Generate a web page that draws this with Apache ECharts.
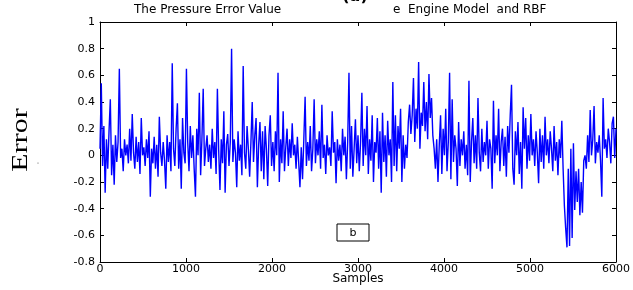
<!DOCTYPE html>
<html>
<head>
<meta charset="utf-8">
<script src="https://cdn.jsdelivr.net/npm/echarts@6/dist/echarts.min.js"></script>
<style>
  html, body { margin: 0; padding: 0; background: #fff; }
  #chart { width: 633px; height: 290px; }
</style>
</head>
<body>
<div id="chart"></div>
<script>
// one value every 15 samples
const step = 15;
const errA = [0.05,0.54,-0.08,0.22,-0.28,0.12,-0.1,0.18,0.42,-0.15,0.08,-0.22,0.15,-0.05,0.1,0.65,-0.02,0.05,-0.12,0.12,0.0,0.08,-0.06,0.2,-0.04,0.31,0.02,-0.1,0.14,-0.05,0.1,-0.14,0.28,0.0,0.06,-0.08,0.12,-0.02,0.18,-0.31,0.05,-0.06,0.14,-0.1,0.08,-0.16,0.29,0.02,-0.08,0.1];
const errB = [-0.04,-0.25,0.15,-0.05,0.1,-0.12,0.69,0.05,-0.08,0.2,0.39,-0.1,0.12,-0.25,0.28,0.02,-0.06,0.65,0.1,-0.12,0.22,-0.02,0.15,-0.1,-0.31,0.2,0.0,0.47,-0.15,0.12,0.5,-0.08,0.05,0.15,-0.05,0.08,-0.1,0.2,-0.02,0.1,-0.14,0.5,0.04,-0.26,0.12,-0.06,0.33,-0.28,0.08,0.16];
const errC = [-0.08,0.1,0.8,-0.05,0.12,0.02,-0.24,0.18,-0.04,0.08,-0.15,0.67,0.02,-0.1,0.22,0.05,-0.16,0.1,0.4,-0.05,0.15,0.28,-0.24,0.08,0.25,-0.12,0.18,-0.18,0.22,0.05,-0.23,0.15,0.3,-0.08,0.1,-0.12,0.18,0.0,0.62,-0.2,0.12,-0.06,0.33,-0.12,0.06,0.2,-0.08,0.12,-0.02,0.24];
const errD = [0.0,0.08,-0.1,0.14,-0.05,-0.24,0.06,-0.18,0.12,0.44,-0.08,0.1,-0.04,0.22,-0.12,0.05,0.42,-0.06,0.12,0.0,0.18,-0.1,0.38,-0.02,0.08,-0.14,0.15,0.0,0.06,-0.08,0.33,0.02,0.1,-0.21,0.12,-0.04,0.08,-0.12,0.2,0.0,0.14,-0.18,0.1,0.62,-0.1,0.22,-0.16,0.05,0.27,-0.06];
const errE = [0.15,-0.12,0.1,0.47,-0.08,0.2,0.0,0.37,-0.14,0.12,-0.04,0.3,-0.2,0.1,0.02,0.28,-0.1,0.18,-0.28,0.32,-0.05,0.15,-0.16,0.26,0.0,0.12,-0.2,0.55,-0.08,0.3,-0.12,0.22,0.05,0.35,-0.2,0.15,-0.1,0.08,-0.02,0.25,0.38,0.16,0.3,0.58,0.1,0.35,0.2,0.7,0.05,0.32];
const errF = [0.22,0.55,0.18,0.4,0.12,0.61,0.28,0.43,0.15,0.05,-0.1,0.12,-0.2,0.08,0.3,-0.14,0.2,0.0,0.35,-0.12,0.1,0.62,-0.18,0.42,-0.05,0.15,0.05,-0.23,0.25,-0.08,0.12,0.0,0.18,-0.1,0.08,-0.15,0.56,-0.2,0.1,0.28,-0.06,0.15,-0.1,0.43,0.02,-0.12,0.2,-0.05,0.1,0.0];
const errG = [0.26,-0.1,0.12,0.05,-0.25,0.41,-0.06,0.15,0.0,0.35,-0.12,0.1,0.2,-0.08,0.14,-0.16,0.22,0.02,0.3,0.53,-0.1,-0.22,0.18,0.0,0.25,-0.14,0.1,-0.25,0.36,0.05,0.28,-0.1,0.15,-0.04,0.31,0.0,0.12,-0.08,0.18,0.02,-0.21,0.2,-0.05,0.15,-0.1,0.29,0.0,0.12,-0.06,0.18];
const errH = [0.05,-0.12,0.22,-0.04,0.1,-0.15,0.12,-0.02,0.26,-0.1,-0.38,-0.55,-0.69,-0.1,-0.68,0.05,-0.62,0.09,-0.41,-0.12,-0.35,-0.1,-0.45,-0.2,-0.43,-0.04,0.0,-0.1,0.15,-0.05,0.34,0.0,0.12,0.37,-0.06,0.1,0.02,0.15,-0.04,-0.31,0.43,0.05,0.12,-0.02,0.2,0.1,-0.06,0.24,0.29,-0.02,0.2];

const xTicks = [0, 1000, 2000, 3000, 4000, 5000, 6000];
const yTicks = [-0.8, -0.6, -0.4, -0.2, 0, 0.2, 0.4, 0.6, 0.8, 1];

const errors = [].concat(errA, errB, errC, errD, errE, errF, errG, errH);
const points = errors.map((v, i) => [i * step, v]);

const chart = echarts.init(document.getElementById("chart"), null, { renderer: "canvas" });

const sans = "DejaVu Sans, Liberation Sans, Arial, sans-serif";
const axisText = { color: "#000", fontFamily: sans, fontSize: 11 };
const lineStyle = { color: "#000", width: 1 };

const option = {
  animation: false,
  backgroundColor: "#fff",
  grid: { left: 100, right: 16, top: 22, bottom: 28 },
  xAxis: [
    {
      type: "value",
      min: xTicks[0],
      max: xTicks[xTicks.length - 1],
      interval: 1000,
      axisLine: { show: true, onZero: false, lineStyle },
      axisTick: { show: true, inside: true, length: 4, lineStyle },
      axisLabel: { ...axisText, margin: 2, formatter: (v) => String(v) },
      splitLine: { show: false },
    },
    {
      type: "value",
      position: "top",
      min: xTicks[0],
      max: xTicks[xTicks.length - 1],
      interval: 1000,
      axisLine: { show: true, onZero: false, lineStyle },
      axisTick: { show: true, inside: true, length: 4, lineStyle },
      axisLabel: { show: false },
      splitLine: { show: false },
    },
  ],
  yAxis: [
    {
      type: "value",
      min: yTicks[0],
      max: yTicks[yTicks.length - 1],
      interval: 0.2,
      axisLine: { show: true, onZero: false, lineStyle },
      axisTick: { show: true, inside: true, length: 4, lineStyle },
      axisLabel: {
        ...axisText,
        margin: 5,
        formatter: (v) => String(Math.round(v * 10) / 10),
      },
      splitLine: { show: false },
    },
    {
      type: "value",
      position: "right",
      min: yTicks[0],
      max: yTicks[yTicks.length - 1],
      interval: 0.2,
      axisLine: { show: true, onZero: false, lineStyle },
      axisTick: { show: true, inside: true, length: 4, lineStyle },
      axisLabel: { show: false },
      splitLine: { show: false },
    },
  ],
  series: [
    {
      type: "line",
      data: points,
      showSymbol: false,
      lineStyle: { color: "#0000ff", width: 1.4 },
      silent: true,
    },
  ],
  graphic: [
    {
      type: "text", x: 355, y: -3,
      style: { text: "(a)", font: "bold 16px " + sans, fill: "#000", align: "center", verticalAlign: "middle" },
    },
    {
      type: "text", left: 134, top: 4,
      style: { text: "The Pressure Error Value", font: "12px " + sans, fill: "#000" },
    },
    {
      type: "text", left: 393, top: 4,
      style: { text: "e  Engine Model  and RBF", font: "12px " + sans, fill: "#000" },
    },
    {
      type: "text", x: 358, y: 279,
      style: { text: "Samples", font: "12px " + sans, fill: "#000", align: "center", verticalAlign: "middle" },
    },
    {
      type: "text", x: 21, y: 140, rotation: Math.PI / 2, scaleX: 1.25,
      style: {
        text: "Error", font: "24px Liberation Serif, Times New Roman, serif",
        fill: "#000", align: "center", verticalAlign: "middle",
      },
    },
    {
      type: "circle", shape: { cx: 38, cy: 163, r: 0.6 },
      style: { fill: "#555" },
    },
    {
      type: "rect", shape: { x: 337, y: 224, width: 32, height: 17 },
      style: { fill: "#fff", stroke: "#000", lineWidth: 1 },
    },
    {
      type: "text", x: 353, y: 233,
      style: { text: "b", font: "11px " + sans, fill: "#000", align: "center", verticalAlign: "middle" },
    },
  ],
};

chart.setOption(option);
</script>
</body>
</html>
